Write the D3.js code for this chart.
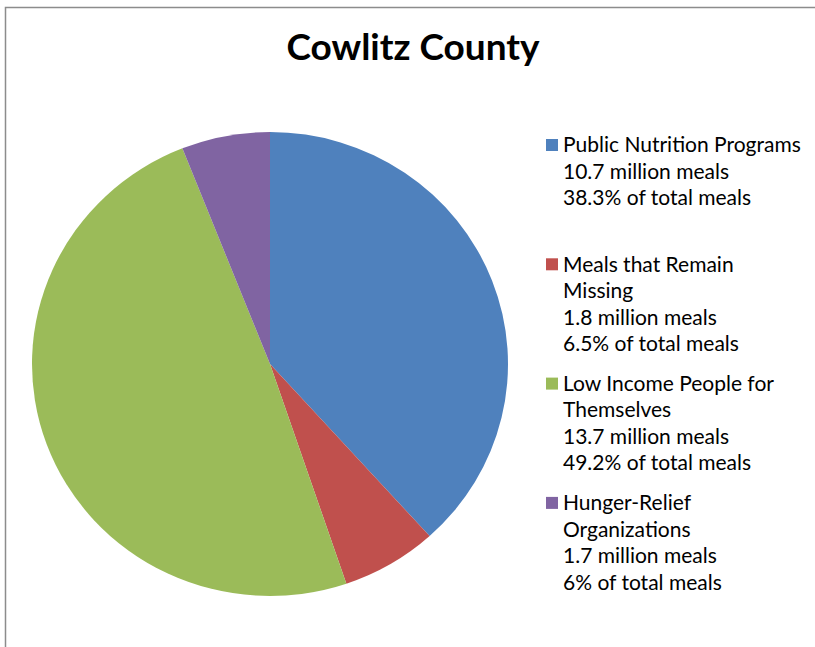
<!DOCTYPE html>
<html>
<head>
<meta charset="utf-8">
<script src="https://cdn.jsdelivr.net/npm/d3@7"></script>
<style>
  body { margin: 0; background: #fff; }
  text { font-family: Lato, "Noto Sans", sans-serif; fill: #000; }
</style>
</head>
<body>
<div id="chart"></div>
<script>
// values
const categories = ['Public Nutrition Programs', 'Meals that Remain Missing', 'Low Income People for Themselves', 'Hunger-Relief Organizations']
const legendNames = [
  ['Public Nutrition Programs'],
  ['Meals that Remain', 'Missing'],
  ['Low Income People for', 'Themselves'],
  ['Hunger-Relief', 'Organizations']
]
const millionMeals = [10.7, 1.8, 13.7, 1.7]
const percentOfTotal = [38.3, 6.5, 49.2, 6]
const colors = ['#4F81BD', '#C0504D', '#9BBB59', '#8064A2']

const width = 815
const height = 647

const svg = d3.select('#chart').append('svg')
  .attr('width', width)
  .attr('height', height)

// chart area frame (runs off right and bottom)
svg.append('rect')
  .attr('x', 5.5)
  .attr('y', 7.5)
  .attr('width', width + 20)
  .attr('height', height + 20)
  .attr('fill', 'none')
  .attr('stroke', '#8c8c8c')
  .attr('stroke-width', 1.5)

svg.append('text')
  .attr('x', 413)
  .attr('y', 60)
  .attr('text-anchor', 'middle')
  .style('font-size', '37px')
  .style('font-weight', 'bold')
  .text('Cowlitz County')

// pie, slightly squashed vertically like the original
const rx = 238
const ry = 232
const pie = d3.pie().sort(null).value(d => d.pct)
const arc = d3.arc().innerRadius(0).outerRadius(rx)

const slices = categories.map((c, i) => ({ name: c, pct: percentOfTotal[i], color: colors[i] }))

svg.append('g')
  .attr('transform', `translate(270, 364) scale(1, ${ry / rx})`)
  .selectAll('path')
  .data(pie(slices))
  .join('path')
  .attr('d', arc)
  .attr('fill', d => d.data.color)

// legend
const lineGap = 26.5
const entryGap = 119.3
const legend = svg.append('g').attr('transform', 'translate(546, 145)')

categories.forEach((c, i) => {
  const lines = legendNames[i].concat([
    `${millionMeals[i]} million meals`,
    `${percentOfTotal[i]}% of total meals`
  ])
  const g = legend.append('g').attr('transform', `translate(0, ${i * entryGap})`)
  g.append('rect')
    .attr('x', 0)
    .attr('y', -6)
    .attr('width', 12)
    .attr('height', 12)
    .attr('fill', colors[i])
  g.selectAll('text')
    .data(lines)
    .join('text')
    .attr('x', 17)
    .attr('y', (d, j) => j * lineGap)
    .attr('dy', '0.35em')
    .style('font-size', '21px')
    .text(d => d)
})
</script>
</body>
</html>
